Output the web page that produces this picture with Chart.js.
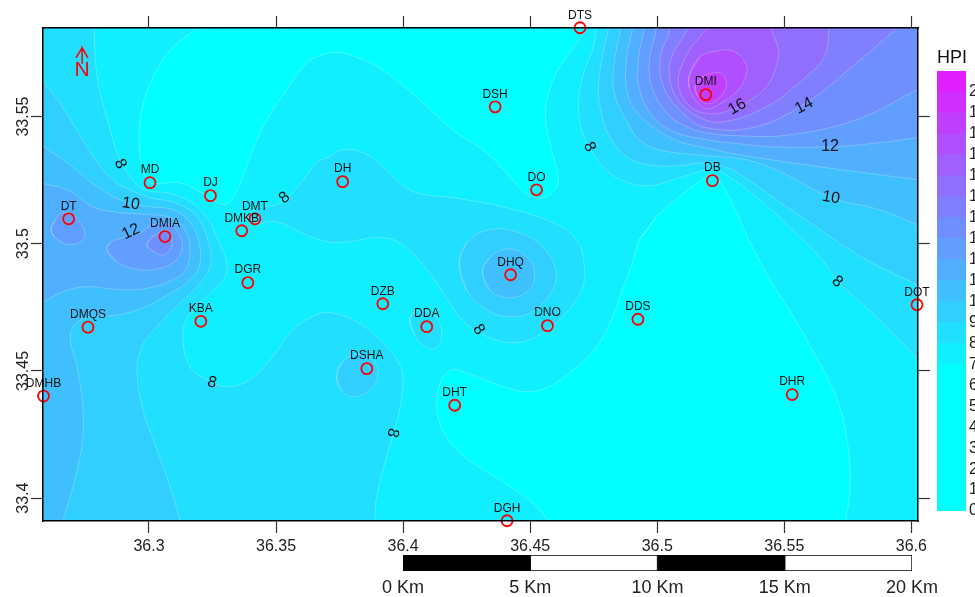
<!DOCTYPE html>
<html lang="en">
<head>
<meta charset="UTF-8">
<title>HPI map</title>
<script src="https://cdn.jsdelivr.net/npm/chart.js"></script>
<style>
    html, body { margin: 0; padding: 0; background: #fff; width: 975px; height: 597px; overflow: hidden; }
    canvas { position: absolute; }
    #map { left: 0; top: 0; }
    #ramp { left: 937px; top: 0; }
    #bar { left: 375px; top: 548px; }
    #rampTitle { position: absolute; left: 937px; top: 47px; font: 18px 'Liberation Sans', sans-serif; color: #111; }
</style>
</head>
<body>
<canvas id="map" width="975" height="597"></canvas>
<canvas id="ramp" width="70" height="597"></canvas>
<canvas id="bar" width="570" height="49"></canvas>
<div id="rampTitle">HPI</div>

<script>
// axis ranges and ticks
const lonMin = 36.2583, lonMax = 36.6026;
const latMin = 33.391, latMax = 33.5848;
const lonTicks = [36.3, 36.35, 36.4, 36.45, 36.5, 36.55, 36.6];
const latTicks = [33.4, 33.45, 33.5, 33.55];

// sampling stations
const stationNames = ['DTS','DSH','DMI','DB','DO','DH','MD','DJ','DMT','DMKB','DT','DMIA','DGR','DHQ','DZB','DDA','DNO','DDS','DOT','KBA','DMQS','DSHA','DMHB','DHT','DHR','DGH'];
const stationLon = [36.4696,36.4362,36.5191,36.5217,36.4525,36.3762,36.3004,36.3242,36.3417,36.3365,36.2684,36.3063,36.3389,36.4423,36.392,36.4093,36.4568,36.4924,36.6022,36.3204,36.276,36.3857,36.2585,36.4203,36.5531,36.4409];
const stationLat = [33.5849,33.5538,33.5586,33.5248,33.5212,33.5244,33.524,33.5189,33.5098,33.5051,33.5098,33.5028,33.4847,33.4878,33.4764,33.4674,33.4678,33.4703,33.476,33.4695,33.4672,33.4509,33.4401,33.4365,33.4407,33.3911];

// contour labels
const contourText = ['8','8','8','8','8','8','8','10','12','16','14','12','10'];
const contourLon = [36.2886,36.3248,36.3959,36.4297,36.4733,36.5708,36.3534,36.2929,36.2929,36.5315,36.5578,36.568,36.5684];
const contourLat = [33.5314,33.4454,33.4257,33.4662,33.5381,33.4851,33.5181,33.5157,33.5047,33.5538,33.5542,33.5381,33.5181];
const contourAngle = [65,15,105,55,65,40,-40,8,-25,-30,-28,0,10];

// HPI classes, one colour per unit
const hpiClasses = [0,1,2,3,4,5,6,7,8,9,10,11,12,13,14,15,16,17,18,19,20];
const classColors = ['#00FFFF','#00FFFF','#00FFFF','#00FFFF','#00FFFF','#00FFFF','#00FFFF','#10EFFF','#20DFFF','#30CFFF','#40BFFF','#50AFFF','#609FFF','#708FFF','#807FFF','#906FFF','#A05FFF','#B04FFF','#C03FFF','#D02FFF','#E01FFF'];
const rampTicks = [0,1,2,3,4,5,6,7,8,9,10,11,12,13,14,15,16,17,18,19,20];

// scale bar
const barSections = [5, 5, 5, 5];
const barTicks = [0, 5, 10, 15, 20];

// below 7: two low areas
const low7North = [[36.3181,33.588],[36.3181,33.5845],[36.3094,33.5774],[36.3016,33.5656],[36.2972,33.5527],[36.2961,33.5409],[36.2972,33.5303],[36.2992,33.5252],[36.3016,33.5236],[36.3122,33.524],[36.32,33.5204],[36.3267,33.5161],[36.331,33.5157],[36.3338,33.5193],[36.3369,33.5263],[36.3409,33.5369],[36.3464,33.5487],[36.3542,33.5605],[36.3621,33.5711],[36.3672,33.5739],[36.3751,33.5751],[36.3841,33.5723],[36.3935,33.5672],[36.4065,33.5566],[36.4195,33.5448],[36.4328,33.5358],[36.4407,33.5279],[36.4458,33.522],[36.4509,33.5185],[36.4564,33.5185],[36.4603,33.522],[36.4611,33.5263],[36.4588,33.5358],[36.4564,33.546],[36.4564,33.5554],[36.4596,33.5656],[36.4655,33.5751],[36.4706,33.5821],[36.4721,33.5849],[36.4721,33.588]];
const low7South = [[36.4969,33.5067],[36.4996,33.5106],[36.5087,33.5185],[36.5177,33.5252],[36.5213,33.5271],[36.5244,33.5248],[36.5283,33.5185],[36.5374,33.4988],[36.5468,33.4819],[36.5519,33.4741],[36.561,33.4583],[36.5704,33.4399],[36.5747,33.423],[36.5759,33.4045],[36.5743,33.3911],[36.574,33.3876],[36.4568,33.3876],[36.4568,33.3911],[36.4525,33.3966],[36.4458,33.4021],[36.4328,33.4104],[36.4222,33.4179],[36.4155,33.4269],[36.4132,33.4375],[36.4155,33.4473],[36.4191,33.4505],[36.4222,33.4501],[36.4301,33.4473],[36.4407,33.4434],[36.4486,33.4418],[36.4564,33.4434],[36.4655,33.4493],[36.4761,33.4595],[36.4824,33.4713],[36.4863,33.4819],[36.4902,33.4925],[36.493,33.5016]];

// level 8
const west8 = [[36.2784,33.588],[36.2784,33.5845],[36.2796,33.5656],[36.2847,33.5448],[36.2886,33.533],[36.2945,33.524],[36.2992,33.5208],[36.3071,33.52],[36.3161,33.5165],[36.3228,33.5102],[36.3271,33.5016],[36.3303,33.4937],[36.3299,33.487],[36.324,33.4807],[36.3153,33.4713],[36.3134,33.4635],[36.3161,33.4517],[36.3228,33.4466],[36.3307,33.4438],[36.3397,33.4466],[36.3487,33.4556],[36.3566,33.4662],[36.366,33.4721],[36.3711,33.4729],[36.3802,33.4701],[36.3896,33.4635],[36.3975,33.4544],[36.3998,33.4477],[36.3986,33.4348],[36.3935,33.4163],[36.3896,33.4006],[36.3888,33.3911],[36.3888,33.3876],[36.2532,33.3876],[36.2532,33.588]];
const middle8 = [[36.3389,33.5106],[36.3424,33.5138],[36.3464,33.5145],[36.3527,33.5165],[36.3593,33.5232],[36.366,33.5318],[36.3711,33.5342],[36.3762,33.5369],[36.3841,33.5358],[36.392,33.5303],[36.3986,33.524],[36.4053,33.52],[36.4222,33.5177],[36.4407,33.5141],[36.4588,33.5083],[36.4682,33.5016],[36.4713,33.491],[36.4702,33.4819],[36.4627,33.4713],[36.4525,33.4635],[36.4419,33.4611],[36.4301,33.465],[36.4222,33.4713],[36.4175,33.478],[36.4104,33.4886],[36.3998,33.4996],[36.3908,33.5024],[36.3751,33.5004],[36.3672,33.5016],[36.3593,33.5047],[36.3503,33.5086],[36.3424,33.5083]];
const dda8 = [[36.4026,33.4701],[36.4045,33.4733],[36.4093,33.4733],[36.4136,33.4701],[36.4151,33.4635],[36.4124,33.4587],[36.4077,33.4603],[36.4045,33.4642]];
const east8 = [[36.4761,33.588],[36.4761,33.5849],[36.4745,33.5762],[36.4706,33.5656],[36.469,33.5538],[36.4706,33.5436],[36.4745,33.5358],[36.4812,33.5279],[36.489,33.524],[36.4969,33.5228],[36.5099,33.5263],[36.5177,33.5287],[36.5224,33.5291],[36.5283,33.5263],[36.5389,33.5185],[36.5519,33.5067],[36.5649,33.4937],[36.5704,33.4859],[36.5743,33.4819],[36.5845,33.4729],[36.5951,33.4623],[36.6022,33.4552],[36.6069,33.4505],[36.6069,33.588]];

// level 9
const west9 = [[36.2532,33.5684],[36.2587,33.5633],[36.2662,33.5534],[36.2756,33.5381],[36.2847,33.5259],[36.2925,33.5212],[36.3004,33.5181],[36.3102,33.5161],[36.3189,33.5106],[36.3236,33.4996],[36.324,33.491],[36.3189,33.4831],[36.3102,33.4748],[36.3031,33.4674],[36.2976,33.4603],[36.2953,33.4505],[36.2976,33.4348],[36.3031,33.419],[36.3083,33.4045],[36.3122,33.3911],[36.313,33.3876],[36.2532,33.3876]];
const dhq9 = [[36.4222,33.4925],[36.425,33.5004],[36.434,33.5055],[36.4458,33.5043],[36.4548,33.4988],[36.46,33.4898],[36.4588,33.4819],[36.4509,33.4733],[36.4419,33.4713],[36.4328,33.4741],[36.425,33.4819]];
const dsha9 = [[36.3739,33.4477],[36.3762,33.4536],[36.3817,33.4564],[36.3869,33.4552],[36.39,33.4493],[36.388,33.4438],[36.3817,33.4399],[36.3762,33.4418]];
const east9 = [[36.4808,33.588],[36.4808,33.5849],[36.4784,33.5735],[36.4769,33.5617],[36.478,33.5515],[36.4812,33.5421],[36.4879,33.5342],[36.4969,33.531],[36.5087,33.5307],[36.5185,33.5318],[36.5264,33.5303],[36.5342,33.5263],[36.5452,33.5185],[36.5586,33.5094],[36.5716,33.5004],[36.5845,33.4925],[36.6022,33.4839],[36.6069,33.4815],[36.6069,33.588]];

// level 10
const west10 = [[36.2532,33.5428],[36.2587,33.5381],[36.2678,33.5318],[36.2796,33.5224],[36.2914,33.5161],[36.3004,33.5145],[36.3094,33.5134],[36.3161,33.5086],[36.3197,33.5004],[36.3197,33.491],[36.3149,33.4847],[36.3075,33.48],[36.2976,33.4748],[36.2859,33.4717],[36.2768,33.4713],[36.2709,33.4682],[36.269,33.4623],[36.2717,33.4517],[36.2741,33.4336],[36.2729,33.4163],[36.2662,33.3911],[36.265,33.3876],[36.2532,33.3876]];
const dhq10 = [[36.4313,33.489],[36.434,33.4945],[36.4411,33.498],[36.4486,33.4949],[36.4517,33.489],[36.4497,33.4819],[36.4419,33.4788],[36.434,33.4819]];
const east10 = [[36.4855,33.588],[36.4855,33.5845],[36.4831,33.5711],[36.4831,33.5593],[36.489,33.5464],[36.493,33.5409],[36.5008,33.5369],[36.5193,33.5346],[36.535,33.533],[36.5492,33.5279],[36.5684,33.5181],[36.5873,33.5134],[36.6022,33.5075],[36.6069,33.5055],[36.6069,33.588]];

// level 11
const west11 = [[36.2532,33.5252],[36.2587,33.5236],[36.2678,33.5212],[36.278,33.5145],[36.2859,33.5126],[36.2945,33.5118],[36.3016,33.5114],[36.3094,33.5098],[36.3145,33.5047],[36.3161,33.4976],[36.3145,33.4898],[36.3094,33.4859],[36.3004,33.4827],[36.2906,33.4819],[36.2847,33.4823],[36.2748,33.4831],[36.2662,33.4811],[36.2587,33.4772],[36.2532,33.4741]];
const east11 = [[36.4902,33.588],[36.4902,33.5845],[36.4879,33.5727],[36.4882,33.5593],[36.4922,33.5515],[36.4989,33.5456],[36.5087,33.5401],[36.5193,33.5377],[36.5323,33.535],[36.5586,33.531],[36.5845,33.5275],[36.6022,33.5252],[36.6069,33.5244],[36.6069,33.588]];

// level 12
const dt12 = [[36.2615,33.5055],[36.2631,33.5094],[36.2662,33.5122],[36.2709,33.5106],[36.2748,33.5028],[36.269,33.4996],[36.2631,33.5024]];
const dmia12 = [[36.2835,33.4976],[36.2847,33.5004],[36.2898,33.5024],[36.2965,33.5043],[36.3016,33.5075],[36.3083,33.5075],[36.3122,33.5028],[36.313,33.4976],[36.3094,33.4925],[36.3016,33.4898],[36.2937,33.4902],[36.2874,33.4929]];
const east12 = [[36.4949,33.588],[36.4949,33.5845],[36.4926,33.5727],[36.493,33.5609],[36.4981,33.5503],[36.5067,33.544],[36.5193,33.5409],[36.5323,33.5393],[36.5452,33.5381],[36.568,33.5381],[36.5873,33.5397],[36.6022,33.5417],[36.6069,33.5424],[36.6069,33.588]];

// level 13
const dmia13 = [[36.2992,33.4996],[36.3024,33.5035],[36.3075,33.5047],[36.309,33.4996],[36.3063,33.4957],[36.3024,33.4965]];
const east13 = [[36.4996,33.588],[36.4996,33.5845],[36.4969,33.5711],[36.4981,33.5609],[36.5048,33.5503],[36.5126,33.5456],[36.5193,33.5436],[36.5323,33.5424],[36.5519,33.5428],[36.5782,33.5487],[36.6022,33.5605],[36.6069,33.5629],[36.6069,33.588]];

// levels 14 to 18, all around DMI
const east14 = [[36.5051,33.588],[36.5051,33.5845],[36.5012,33.5727],[36.5028,33.5609],[36.5099,33.5515],[36.5193,33.5456],[36.5389,33.546],[36.5586,33.5554],[36.5767,33.5696],[36.5944,33.5849],[36.5971,33.588]];
const east15 = [[36.5118,33.588],[36.5118,33.5845],[36.5059,33.5739],[36.5048,33.566],[36.5079,33.557],[36.5154,33.5503],[36.5256,33.5479],[36.5429,33.5538],[36.5558,33.5633],[36.5657,33.5735],[36.5676,33.5849],[36.5676,33.588]];
const east16 = [[36.5205,33.588],[36.5205,33.5857],[36.5165,33.581],[36.5114,33.5739],[36.5083,33.5633],[36.5126,33.5542],[36.5205,33.5511],[36.5295,33.5527],[36.535,33.5554],[36.5429,33.5617],[36.5468,33.5696],[36.5476,33.5762],[36.5448,33.5849],[36.5448,33.588]];
const dmi17 = [[36.5126,33.566],[36.5165,33.5731],[36.5236,33.5758],[36.5303,33.5755],[36.535,33.5703],[36.5346,33.5652],[36.5311,33.5597],[36.5252,33.5554],[36.5197,33.5531],[36.515,33.5566],[36.5126,33.5613]];
const dmi18 = [[36.515,33.5621],[36.5185,33.566],[36.5252,33.5668],[36.5272,33.5621],[36.5244,33.5574],[36.5193,33.555],[36.5158,33.5582]];

// north arrow
const arrowLon = [36.2713, 36.2737, 36.276, 36.2737, 36.2737];
const arrowLat = [33.5731, 33.577, 33.5731, 33.577, 33.5707];
const northLon = 36.2737, northLat = 33.5684;

Chart.defaults.font.family = "'Liberation Sans', sans-serif";
Chart.defaults.color = '#222';

// base colour of the map, then areas painted from low to high
const plotBox = [[lonMin, latMax], [lonMax, latMax], [lonMax, latMin], [lonMin, latMin]];
const areas = [
    [plotBox, 7],
    [low7North, 0], [low7South, 0],
    [west8, 8], [middle8, 8], [dda8, 8], [east8, 8],
    [west9, 9], [dhq9, 9], [dsha9, 9], [east9, 9],
    [west10, 10], [dhq10, 10], [east10, 10],
    [west11, 11], [east11, 11],
    [dt12, 12], [dmia12, 12], [east12, 12],
    [dmia13, 13], [east13, 13],
    [east14, 14], [east15, 15], [east16, 16], [dmi17, 17], [dmi18, 18]
];

// closed loops run over their first points again so the spline has no corner at the seam
const loopAreas = [low7South, middle8, dda8, dhq9, dsha9, dhq10, dt12, dmia12, dmia13, dmi17, dmi18];

const datasets = areas.map(function (a, i) {
    const pts = loopAreas.indexOf(a[0]) >= 0
        ? [a[0][a[0].length - 1]].concat(a[0], a[0].slice(0, 2))
        : a[0].concat([a[0][0]]);
    return {
        type: 'scatter',
        data: pts.map(function (p) { return { x: p[0], y: p[1] }; }),
        showLine: true,
        fill: 'shape',
        tension: 0.4,
        backgroundColor: classColors[a[1]],
        borderColor: i === 0 ? classColors[7] : 'rgba(255,255,255,0.4)',
        borderWidth: 0.6,
        pointRadius: 0,
        order: 100 - i
    };
});

datasets.push({
    type: 'scatter',
    data: arrowLon.map(function (v, i) { return { x: v, y: arrowLat[i] }; }),
    showLine: true,
    fill: false,
    borderColor: '#FF0000',
    borderWidth: 1.5,
    pointRadius: 0,
    order: -1
});

datasets.push({
    type: 'scatter',
    data: stationLon.map(function (v, i) { return { x: v, y: stationLat[i] }; }),
    showLine: false,
    pointStyle: 'circle',
    pointRadius: 5.5,
    pointBorderWidth: 1.8,
    pointBorderColor: '#FF0000',
    pointBackgroundColor: 'rgba(0,0,0,0)',
    clip: false,
    order: -2
});

// texts on the map: station names, contour values, the N of the arrow
const mapTexts = {
    id: 'mapTexts',
    afterDatasetsDraw: function (chart) {
        const ctx = chart.ctx, x = chart.scales.x, y = chart.scales.y;
        ctx.save();
        ctx.textAlign = 'center';
        ctx.textBaseline = 'middle';
        ctx.fillStyle = '#111';
        ctx.font = "12px 'Liberation Sans', sans-serif";
        stationNames.forEach(function (name, i) {
            ctx.fillText(name, x.getPixelForValue(stationLon[i]), y.getPixelForValue(stationLat[i]) - 12.5);
        });
        ctx.font = "16px 'Liberation Sans', sans-serif";
        contourText.forEach(function (t, i) {
            ctx.save();
            ctx.translate(x.getPixelForValue(contourLon[i]), y.getPixelForValue(contourLat[i]));
            ctx.rotate(contourAngle[i] * Math.PI / 180);
            ctx.fillText(t, 0, 0);
            ctx.restore();
        });
        ctx.fillStyle = '#FF0000';
        ctx.font = "21px 'Liberation Sans', sans-serif";
        ctx.fillText('N', x.getPixelForValue(northLon), y.getPixelForValue(northLat));
        ctx.restore();
    }
};

function axisOptions(position, min, max, ticks, size, showLabels) {
    const isVertical = position === 'left' || position === 'right';
    return {
        type: 'linear',
        position: position,
        min: min,
        max: max,
        afterBuildTicks: function (axis) {
            axis.ticks = ticks.map(function (v) { return { value: v }; });
        },
        afterFit: function (axis) {
            if (isVertical) { axis.width = size; } else { axis.height = size; }
        },
        grid: { drawOnChartArea: false, drawTicks: true, tickLength: 12, tickColor: '#333', tickWidth: 1.2 },
        border: { display: true, color: '#000', width: 1.5, z: 1 },
        ticks: {
            display: showLabels,
            autoSkip: false,
            padding: position === 'left' ? -13 : 4,
            crossAlign: position === 'left' ? 'center' : 'near',
            color: '#222',
            font: { size: 16 },
            minRotation: position === 'left' ? 90 : 0,
            maxRotation: position === 'left' ? 90 : 0,
            callback: function (v) { return String(v); }
        }
    };
}

new Chart(document.getElementById('map'), {
    type: 'scatter',
    data: { datasets: datasets },
    options: {
        responsive: false,
        animation: false,
        events: [],
        layout: { padding: 0 },
        plugins: { legend: { display: false }, tooltip: { enabled: false } },
        scales: {
            x: axisOptions('bottom', lonMin, lonMax, lonTicks, 76, true),
            xTop: Object.assign(axisOptions('top', lonMin, lonMax, lonTicks, 28, false), { axis: 'x' }),
            y: axisOptions('left', latMin, latMax, latTicks, 43, true),
            yRight: Object.assign(axisOptions('right', latMin, latMax, latTicks, 57, false), { axis: 'y' })
        }
    },
    plugins: [mapTexts]
});

// colour ramp at the right
new Chart(document.getElementById('ramp'), {
    type: 'bar',
    data: {
        labels: ['HPI'],
        datasets: hpiClasses.map(function (c, i) {
            return { data: [1], backgroundColor: classColors[i], barPercentage: 1, categoryPercentage: 1 };
        })
    },
    options: {
        responsive: false,
        animation: false,
        events: [],
        layout: { padding: { top: 71, bottom: 86 } },
        plugins: { legend: { display: false }, tooltip: { enabled: false } },
        scales: {
            x: { stacked: true, display: false },
            y: {
                stacked: true,
                position: 'right',
                min: 0,
                max: 21,
                afterBuildTicks: function (axis) {
                    axis.ticks = rampTicks.map(function (v) { return { value: v }; });
                },
                afterFit: function (axis) { axis.width = 41; },
                grid: { display: false, drawTicks: false },
                border: { display: false },
                ticks: { autoSkip: false, padding: 3, color: '#222', font: { size: 16 } }
            }
        }
    }
});

// scale bar under the map
new Chart(document.getElementById('bar'), {
    type: 'bar',
    data: {
        labels: ['Km'],
        datasets: barSections.map(function (v, i) {
            return {
                data: [v],
                backgroundColor: i % 2 === 0 ? '#000' : '#fff',
                borderColor: '#000',
                borderWidth: 1,
                borderSkipped: false,
                barPercentage: 1,
                categoryPercentage: 1
            };
        })
    },
    options: {
        indexAxis: 'y',
        responsive: false,
        animation: false,
        events: [],
        layout: { padding: { left: 28, right: 33, top: 7 } },
        plugins: { legend: { display: false }, tooltip: { enabled: false } },
        scales: {
            y: { stacked: true, display: false },
            x: {
                stacked: true,
                min: 0,
                max: 20,
                afterBuildTicks: function (axis) {
                    axis.ticks = barTicks.map(function (v) { return { value: v }; });
                },
                afterFit: function (axis) { axis.height = 26; },
                grid: { display: false, drawTicks: false },
                border: { display: false },
                ticks: {
                    autoSkip: false,
                    maxRotation: 0,
                    padding: 6,
                    color: '#222',
                    font: { size: 18 },
                    callback: function (v) { return v + ' Km'; }
                }
            }
        }
    }
});
</script>
</body>
</html>
